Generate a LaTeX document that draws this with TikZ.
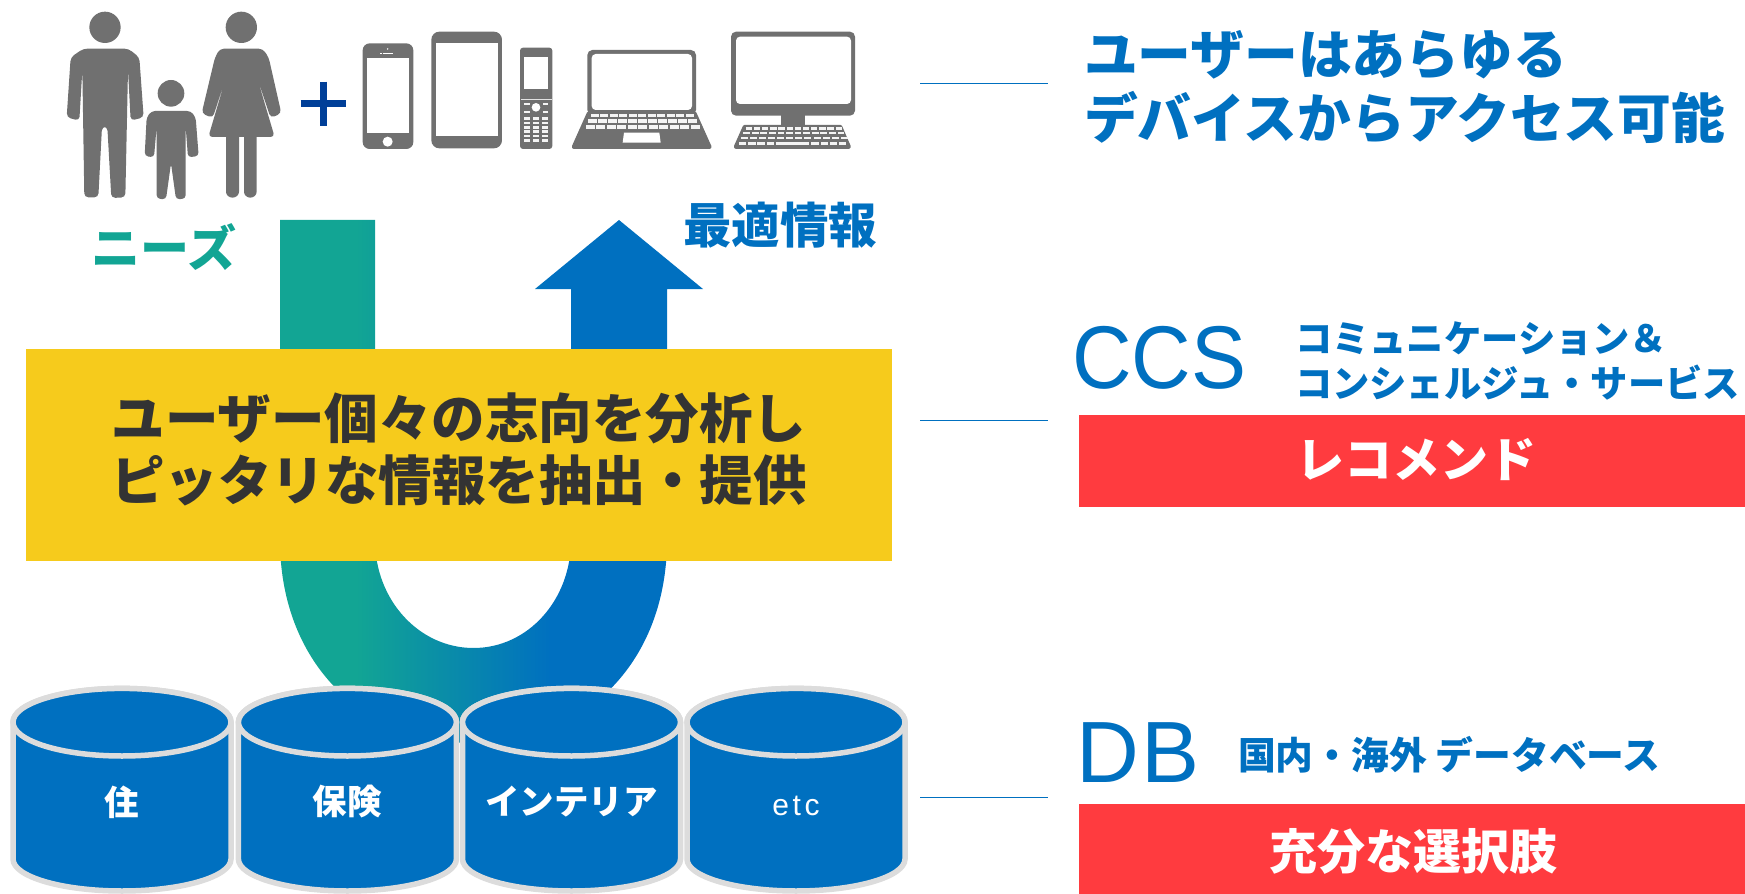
\documentclass[tikz,border=0pt]{standalone}
\usepackage{fontspec}
\setmainfont{Liberation Sans}
\newfontfamily\jp{Noto Sans CJK JP}
\definecolor{ublue}{HTML}{0070C0}
\definecolor{uteal}{HTML}{12A594}
\definecolor{ugrey}{HTML}{707070}
\definecolor{uyellow}{HTML}{F6CB1C}
\definecolor{ured}{HTML}{FF3B3F}
\definecolor{uedge}{HTML}{DCDCDC}
\definecolor{udark}{HTML}{333333}
\definecolor{uplus}{HTML}{003F98}
\pgfdeclarehorizontalshading{ushade}{100bp}{color(0bp)=(uteal); color(34bp)=(uteal); color(57bp)=(ublue); color(100bp)=(ublue)}
\tikzset{
  txt/.style={inner sep=0pt,outer sep=0pt},
  jpb/.style 2 args={txt,font={\jp\bfseries\fontsize{#1}{#2}\selectfont}},
  leader/.style={draw=ublue,line width=1pt},
  icon/.style={fill=ugrey,draw=none},
  hole/.style={fill=white,draw=none},
  keyc/.style={fill=white!92!ugrey,draw=none},
  cyl/.style={fill=ublue,draw=uedge,line width=5.5pt},
  redbar/.style={fill=ured,draw=none},
}
\begin{document}
\begin{tikzpicture}[x=1pt,y=-1pt]
\useasboundingbox (0,0) rectangle (1745,893.3);
% U arrow
\path[shading=ushade,shading angle=0]
  (280,220) -- (375,220) -- (375,540)
  .. controls (375,600) and (419,648) .. (473.5,648)
  .. controls (528,648) and (571,600) .. (571,540)
  -- (571,289) -- (535,289) -- (619,220) -- (703,289) -- (667,289) -- (667,540)
  .. controls (667,660) and (587,743) .. (473.5,743)
  .. controls (360,743) and (280,660) .. (280,540) -- cycle;
% yellow box
\path[fill=uyellow] (26,349) rectangle (892,561);
\coordinate (boxc) at (459,449.5);
\node[jpb={53.5}{62},text=udark,align=center] (boxt) at (boxc) {ユーザー個々の志向を分析し\\ピッタリな情報を抽出・提供};
% cylinders
\foreach \n/\cx/\lab/\ly in {a/122/住/802,b/347.4/保険/802,c/571.5/インテリア/802}{
  \path[cyl] (\cx-109,722.2) -- (\cx-109,859) arc[start angle=180,end angle=0,x radius=109,y radius=32] -- (\cx+109,722.2) arc[start angle=0,end angle=-180,x radius=109,y radius=33.8] -- cycle;
  \path[cyl] (\cx,722.2) ellipse[x radius=109,y radius=33.8];
  \node[jpb={34.5}{34.5},text=white] (cyl\n) at (\cx,\ly) {\lab};
}
\path[cyl] (796-109,722.2) -- (796-109,859) arc[start angle=180,end angle=0,x radius=109,y radius=32] -- (796+109,722.2) arc[start angle=0,end angle=-180,x radius=109,y radius=33.8] -- cycle;
\path[cyl] (796,722.2) ellipse[x radius=109,y radius=33.8];
\node[txt,text=white,font={\addfontfeature{LetterSpace=12}\fontsize{30}{30}\selectfont}] (cyld) at (796,805.5) {etc};
% people
\begin{scope}[xshift=40pt,x=0.33333pt,y=-0.33333pt]
  \fill[icon] (195,82) circle[radius=47];
  \fill[icon,rounded corners=4pt] (130,146) -- (265,146) -- (298,172) -- (311,352) -- (272,362) -- (264,210) -- (256,592) -- (214,594) -- (202,380) -- (186,380) -- (175,592) -- (133,592) -- (127,210) -- (118,362) -- (80,352) -- (92,172) -- cycle;
  \fill[icon] (393,280) circle[radius=40];
  \fill[icon,rounded corners=3.5pt] (335,333) -- (452,333) -- (467,352) -- (476,468) -- (444,472) -- (437,380) -- (437,596) -- (408,598) -- (393,490) -- (378,598) -- (350,596) -- (350,380) -- (342,472) -- (314,468) -- (320,352) -- cycle;
  \fill[icon] (604,82) circle[radius=47];
  \fill[icon] (558,405) -- (650,405) -- (650,575) arc[start angle=0,end angle=180,x radius=19,y radius=18] -- (612,405) -- (597,405) -- (597,575) arc[start angle=0,end angle=180,x radius=19.5,y radius=18] -- cycle;
  \fill[icon,rounded corners=4pt] (540,146) -- (668,146) -- (686,172) -- (724,340) -- (692,354) -- (651,232) -- (704,411) -- (505,411) -- (558,232) -- (518,354) -- (485,340) -- (525,172) -- cycle;
  % plus
  \draw[uplus,line width=6.5pt] (782,310) -- (917,310) (850,245) -- (850,378);
  % smartphone
  \fill[icon,rounded corners=7pt] (968,130) rectangle (1120,447);
  \fill[hole] (980,175) rectangle (1108,400);
  \fill[hole] (1043,425) circle[radius=15];
  \fill[hole] (1030,158) rectangle (1058,163);
  \fill[hole] (1043,147) circle[radius=2.5];
  \fill[hole] (1019,159) rectangle (1025,162);
  % tablet
  \fill[icon,rounded corners=8pt] (1174,95) rectangle (1386,445);
  \fill[hole] (1187,130) rectangle (1375,408);
\end{scope}
\begin{scope}[xshift=480pt,x=0.33333pt,y=-0.33333pt]
  % feature phone
  \fill[icon,rounded corners=3pt] (120,143) rectangle (217,447);
  \fill[hole] (133,172) rectangle (205,267);
  \fill[white!80!ugrey] (122,296) rectangle (215,298);
  \fill[hole] (168,322) circle[radius=13];
  \foreach \u in {132,188}{
    \fill[keyc] (\u,308) rectangle ++(17,6);
    \fill[keyc] (\u,333) rectangle ++(17,6);
  }
  \foreach \u in {132,159,186}{
    \foreach \v in {352,365,378,391,404,418}{
      \fill[keyc] (\u,\v) rectangle ++(19,8);
    }
  }
  % laptop
  \fill[icon,rounded corners=5pt] (322,150) rectangle (648,345);
  \fill[hole,rounded corners=4pt] (335,162) rectangle (636,330);
  \fill[icon,rounded corners=1pt] (322,335) -- (648,335) -- (695,440) -- (692,447) -- (278,447) -- (275,440) -- cycle;
  \foreach \k in {0,...,10}{
    \fill[keyc] ({332+\k*28.5},341) rectangle ++(24,9);
    \fill[keyc] ({325+\k*30},358) rectangle ++(26,10);
    \fill[keyc] ({317+\k*31.5},375) rectangle ++(27,11);
  }
  \fill[hole] (432,398) -- (538,398) -- (542,428) -- (428,428) -- cycle;
  % desktop
  \fill[icon,rounded corners=5pt] (753,95) rectangle (1125,347);
  \fill[hole,rounded corners=4pt] (768,110) rectangle (1113,312);
  \fill[icon] (904,340) rectangle (976,380);
  \fill[icon,rounded corners=1pt] (790,375) -- (1085,375) -- (1113,440) -- (1109,447) -- (765,447) -- (761,440) -- cycle;
  \foreach \k in {0,...,11}{
    \fill[keyc] ({797+\k*24.5},382) rectangle ++(19,7);
    \fill[keyc] ({790+\k*25.7},395) rectangle ++(20,8);
    \fill[keyc] ({783+\k*27.2},410) rectangle ++(21,8);
  }
  \foreach \k in {0,1,2,3}{
    \fill[keyc] ({777+\k*27.5},427) rectangle ++(22,9);
    \fill[keyc] ({994+\k*27.5},427) rectangle ++(22,9);
  }
  \fill[keyc] (887,427) rectangle (988,436);
\end{scope}
% left labels
\node[jpb={49}{49},text=uteal] (needs) at (164,247) {ニーズ};
\node[jpb={48.5}{49},text=ublue] (best) at (780,225) {最適情報};
% right column
\node[jpb={53.8}{64},text=ublue,align=left,anchor=west] (title) at (1084,87) {ユーザーはあらゆる\\デバイスからアクセス可能};
\node[txt,text=ublue,anchor=west,font={\fontsize{82.5}{82}\selectfont}] (ccs) at (1072,358) {\scalebox{1}[1.08]{CCS}};
\node[jpb={37.3}{45},text=ublue,align=left,anchor=west] (ccsd) at (1295,361) {コミュニケーション＆\\コンシェルジュ・サービス};
\path[redbar] (1079,415) rectangle (1745,507);
\node[jpb={48}{48},text=white] (rect) at (1416,460) {レコメンド};
\node[txt,text=ublue,anchor=west,font={\addfontfeature{LetterSpace=3}\fontsize{87}{87}\selectfont}] (db) at (1076.5,753) {DB};
\node[jpb={37.8}{38},text=ublue,anchor=west] (dbd) at (1238,755) {国内・海外 データベース};
\path[redbar] (1079,803.5) rectangle (1745,896);
\node[jpb={48}{48},text=white] (selt) at (1413,851) {充分な選択肢};
% leader lines
\coordinate (l1) at (920,83.5); \coordinate (r1) at (1048,83.5);
\coordinate (l2) at (920,420.5); \coordinate (r2) at (1048,420.5);
\coordinate (l3) at (920,797); \coordinate (r3) at (1048,797);
\draw[leader] (l1) -- (r1);
\draw[leader] (l2) -- (r2);
\draw[leader] (l3) -- (r3);
\end{tikzpicture}
\end{document}
